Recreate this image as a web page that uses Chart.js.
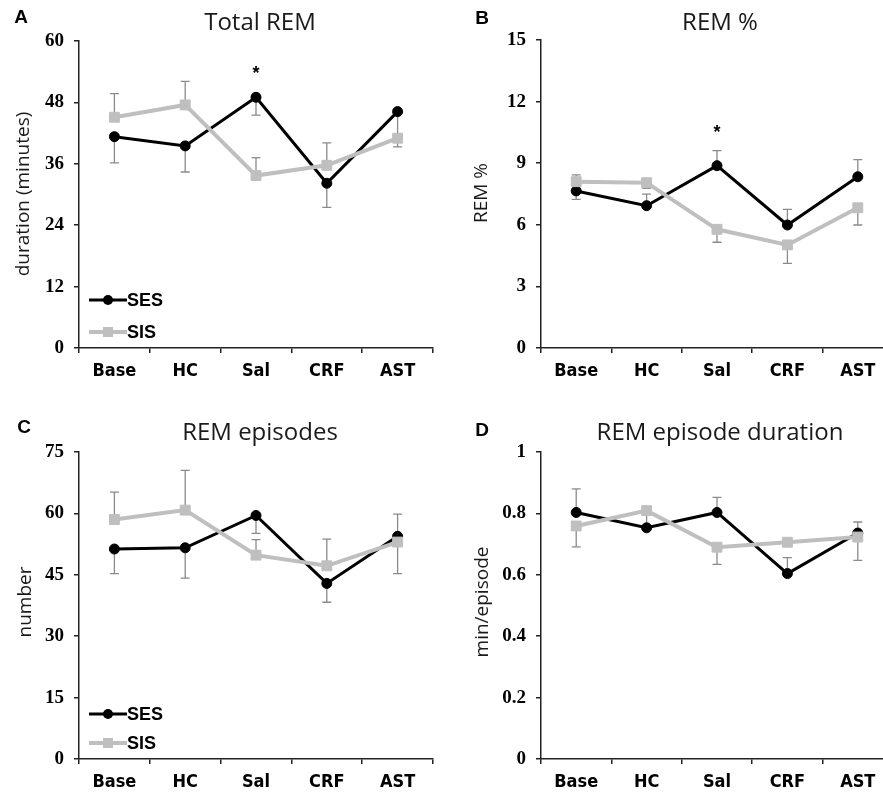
<!DOCTYPE html>
<html><head><meta charset="utf-8">
<script src="https://cdn.jsdelivr.net/npm/chart.js@4.4.1/dist/chart.umd.min.js"></script>
<style>
html,body{margin:0;padding:0;background:#fff;width:883px;height:795px;overflow:hidden;position:relative;}
canvas{position:absolute;}
</style></head><body>
<canvas id="cA" width="441" height="397" style="left:0;top:0"></canvas>
<canvas id="cB" width="460" height="397" style="left:441px;top:0"></canvas>
<canvas id="cC" width="441" height="411" style="left:0;top:397px"></canvas>
<canvas id="cD" width="460" height="411" style="left:441px;top:397px"></canvas>
<script>
// ---------- data ----------
const categories = ['Base', 'HC', 'Sal', 'CRF', 'AST'];
const seriesNames = ['SES', 'SIS'];

// A: Total REM (minutes)
const totalRemSES = [41.3, 39.5, 49.0, 32.2, 46.2];
const totalRemSIS = [45.1, 47.5, 33.7, 35.7, 41.0];
const totalRemSESErrUp = [0, 0, 0, 0, 0];
const totalRemSESErrDown = [5.1, 5.1, 3.5, 4.7, 4.5];
const totalRemSISErrUp = [4.6, 4.6, 3.5, 4.4, 0];
const totalRemSISErrDown = [0, 0, 0, 0, 1.7];

// B: REM %
const remPctSES = [7.65, 6.93, 8.88, 5.99, 8.34];
const remPctSIS = [8.10, 8.05, 5.78, 5.02, 6.83];
const remPctSESErrUp = [0, 0.56, 0.73, 0.76, 0.83];
const remPctSESErrDown = [0.41, 0, 0, 0, 0];
const remPctSISErrUp = [0.33, 0, 0, 0, 0];
const remPctSISErrDown = [0, 0.27, 0.63, 0.9, 0.84];

// C: REM episodes (number)
const episodesSES = [51.3, 51.6, 59.5, 42.9, 54.4];
const episodesSIS = [58.5, 60.8, 49.8, 47.2, 53.0];
const episodesSESErrUp = [0, 0, 0, 0, 5.4];
const episodesSESErrDown = [6.0, 7.4, 4.4, 4.6, 0];
const episodesSISErrUp = [6.7, 9.7, 3.8, 6.5, 0];
const episodesSISErrDown = [0, 0, 0, 0, 7.7];

// D: REM episode duration (min/episode)
const epDurSES = [0.803, 0.753, 0.803, 0.604, 0.736];
const epDurSIS = [0.759, 0.809, 0.690, 0.706, 0.723];
const epDurSESErrUp = [0.077, 0.045, 0.049, 0.052, 0.036];
const epDurSESErrDown = [0, 0, 0, 0, 0];
const epDurSISErrUp = [0, 0, 0, 0, 0];
const epDurSISErrDown = [0.068, 0, 0.056, 0, 0.076];

// axis ranges / tick steps
const yRangeA = [0, 60, 12];
const yRangeB = [0, 15, 3];
const yRangeC = [0, 75, 15];
const yRangeD = [0, 1, 0.2];

// significance markers (category, value)
const starA = ['Sal', 54.2];
const starB = ['Sal', 10.6];

// ---------- drawing ----------
const AXIS = '#222';
const SES_COLOR = '#000000';
const SIS_COLOR = '#bfbfbf';
const ERR_COLOR = '#8a8a8a';
const TICK_FONT_X = { family: '"Liberation Sans Narrow", "DejaVu Sans Condensed", "Liberation Sans", sans-serif', size: 18, weight: 'bold' };
const TICK_FONT_Y = { family: '"Liberation Serif", serif', size: 19, weight: 'bold' };

const panelPlugin = {
  id: 'panelDecor',
  beforeDatasetsDraw(chart) {
    const ctx = chart.ctx, xs = chart.scales.x, ys = chart.scales.y;
    ctx.save();
    ctx.strokeStyle = ERR_COLOR;
    ctx.lineWidth = 1.3;
    chart.data.datasets.forEach(ds => {
      ds.data.forEach((v, i) => {
        const x = xs.getPixelForValue(i);
        const y0 = ys.getPixelForValue(v);
        [[ds.errUp[i], 1], [ds.errDown[i], -1]].forEach(([e, s]) => {
          if (!e) return;
          const y1 = ys.getPixelForValue(v + s * e);
          ctx.beginPath();
          ctx.moveTo(x, y0); ctx.lineTo(x, y1);
          ctx.moveTo(x - 4.5, y1); ctx.lineTo(x + 4.5, y1);
          ctx.stroke();
        });
      });
    });
    ctx.restore();
  },
  afterDraw(chart) {
    const o = chart.options.plugins.panelDecor;
    const ctx = chart.ctx, xs = chart.scales.x, ys = chart.scales.y;
    ctx.save();
    // panel letter
    ctx.fillStyle = '#000';
    ctx.font = 'bold 19px "Liberation Sans", Arial, sans-serif';
    ctx.textAlign = 'center'; ctx.textBaseline = 'middle';
    ctx.fillText(o.letter, o.letterPos[0], o.letterPos[1]);
    // title
    ctx.fillStyle = '#1a1a1a';
    ctx.font = '24px "Open Sans", sans-serif';
    ctx.fillText(o.title, o.titlePos[0], o.titlePos[1]);
    // y axis title
    ctx.save();
    ctx.translate(o.yTitlePos[0], o.yTitlePos[1]);
    ctx.rotate(-Math.PI / 2);
    ctx.font = '19px "Open Sans", sans-serif';
    ctx.fillText(o.yTitle, 0, 0);
    ctx.restore();
    // asterisk
    if (o.star) {
      const sx = xs.getPixelForValue(categories.indexOf(o.star[0]));
      const sy = ys.getPixelForValue(o.star[1]);
      ctx.fillStyle = '#000';
      ctx.font = 'bold 18px "Liberation Sans", sans-serif';
      ctx.fillText('*', sx, sy + 3);
    }
    // legend
    if (o.legend) {
      const [lx, ly, gap] = o.legend;
      const dss = chart.data.datasets;
      seriesNames.forEach((name, k) => {
        const ds = dss.find(d => d.label === name);
        const y = ly + k * gap;
        ctx.strokeStyle = ds.borderColor;
        ctx.lineWidth = ds.borderWidth;
        ctx.beginPath(); ctx.moveTo(lx, y); ctx.lineTo(lx + 38, y); ctx.stroke();
        ctx.fillStyle = ds.borderColor;
        if (ds.pointStyle === 'circle') {
          ctx.beginPath(); ctx.arc(lx + 19, y, 5, 0, Math.PI * 2); ctx.fill();
        } else {
          ctx.fillRect(lx + 14, y - 5, 10, 10);
        }
        ctx.fillStyle = '#000';
        ctx.font = 'bold 18px "Liberation Sans Narrow", "Liberation Sans", sans-serif';
        ctx.textAlign = 'left';
        ctx.fillText(name, lx + 38, y + 1);
      });
    }
    ctx.restore();
  }
};

function makeChart(id, ses, sis, sesUp, sesDown, sisUp, sisDown, range, yWidth, padTop, padRight, decor) {
  return new Chart(document.getElementById(id), {
    type: 'line',
    data: {
      labels: categories,
      datasets: [
        { label: seriesNames[0], data: ses, errUp: sesUp, errDown: sesDown,
          borderColor: SES_COLOR, backgroundColor: SES_COLOR, borderWidth: 3,
          pointStyle: 'circle', pointRadius: 5, pointBorderWidth: 1,
          pointBackgroundColor: SES_COLOR, pointBorderColor: SES_COLOR, tension: 0, order: 2 },
        { label: seriesNames[1], data: sis, errUp: sisUp, errDown: sisDown,
          borderColor: SIS_COLOR, backgroundColor: SIS_COLOR, borderWidth: 4,
          pointStyle: 'rect', pointRadius: 7, pointBorderWidth: 1,
          pointBackgroundColor: SIS_COLOR, pointBorderColor: SIS_COLOR, tension: 0, order: 1 }
      ]
    },
    options: {
      responsive: false, animation: false, devicePixelRatio: 1,
      layout: { padding: { top: padTop, right: padRight, left: 0, bottom: 0 } },
      plugins: { legend: { display: false }, tooltip: { enabled: false }, panelDecor: decor },
      scales: {
        x: {
          type: 'category', offset: true,
          grid: { offset: true, drawOnChartArea: false, drawTicks: true, tickLength: 5, color: AXIS, lineWidth: 1.5 },
          border: { display: true, color: AXIS, width: 1.5 },
          ticks: { color: '#000', font: TICK_FONT_X, padding: 8, maxRotation: 0, autoSkip: false },
          afterFit(s) { s.height = 49; }
        },
        y: {
          min: range[0], max: range[1],
          grid: { drawOnChartArea: false, drawTicks: true, tickLength: 5, color: AXIS, lineWidth: 1.5 },
          border: { display: true, color: AXIS, width: 1.5 },
          ticks: { stepSize: range[2], color: '#000', font: TICK_FONT_Y, padding: 10,
                   callback: v => String(+Number(v).toFixed(2)) },
          afterFit(s) { s.width = yWidth; }
        }
      }
    },
    plugins: [panelPlugin]
  });
}

makeChart('cA', totalRemSES, totalRemSIS, totalRemSESErrUp, totalRemSESErrDown, totalRemSISErrUp, totalRemSISErrDown,
  yRangeA, 79, 41, 7,
  { letter: 'A', letterPos: [21, 18], title: 'Total REM', titlePos: [260, 23], yTitle: 'duration (minutes)', yTitlePos: [24, 194], star: starA, legend: [89, 300, 32] });
makeChart('cB', remPctSES, remPctSIS, remPctSESErrUp, remPctSESErrDown, remPctSISErrUp, remPctSISErrDown,
  yRangeB, 100, 40, 5,
  { letter: 'B', letterPos: [41, 19], title: 'REM %', titlePos: [279, 23], yTitle: 'REM %', yTitlePos: [41, 193], star: starB, legend: null });
makeChart('cC', episodesSES, episodesSIS, episodesSESErrUp, episodesSESErrDown, episodesSISErrUp, episodesSISErrDown,
  yRangeC, 79, 55, 7,
  { letter: 'C', letterPos: [24, 31], title: 'REM episodes', titlePos: [260, 36], yTitle: 'number', yTitlePos: [26, 205], star: null, legend: [89, 317, 29] });
makeChart('cD', epDurSES, epDurSIS, epDurSESErrUp, epDurSESErrDown, epDurSISErrUp, epDurSISErrDown,
  yRangeD, 100, 55, 5,
  { letter: 'D', letterPos: [41, 34], title: 'REM episode duration', titlePos: [279, 36], yTitle: 'min/episode', yTitlePos: [42, 205], star: null, legend: null });
</script>
</body></html>
